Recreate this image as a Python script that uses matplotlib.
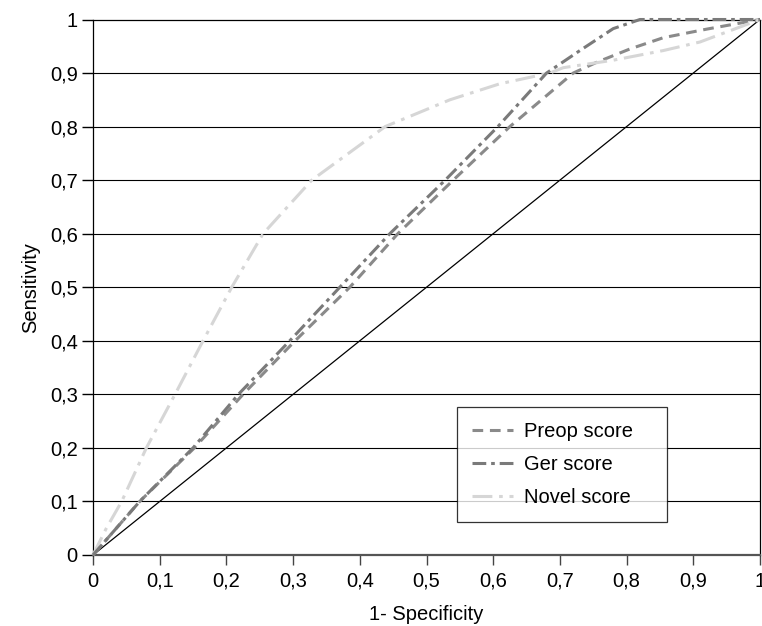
import matplotlib
matplotlib.use("Agg")
import matplotlib.pyplot as plt
from matplotlib.ticker import FuncFormatter

plt.rcParams['font.family'] = ['Liberation Sans', 'DejaVu Sans']

preop_x = [0, 0.07, 0.152, 0.225, 0.303, 0.385, 0.457, 0.54, 0.625, 0.72, 0.755, 0.805, 0.855, 0.92, 1.0]
preop_y = [0, 0.10, 0.20, 0.30, 0.40, 0.50, 0.60, 0.70, 0.80, 0.90, 0.92, 0.945, 0.966, 0.982, 1.0]

ger_x = [0, 0.07, 0.15, 0.218, 0.295, 0.37, 0.445, 0.528, 0.607, 0.68, 0.73, 0.78, 0.82, 1.0]
ger_y = [0, 0.10, 0.20, 0.30, 0.40, 0.50, 0.60, 0.70, 0.80, 0.90, 0.942, 0.983, 1.0, 1.0]

novel_x = [0, 0.02, 0.043, 0.08, 0.123, 0.165, 0.208, 0.255, 0.328, 0.438, 0.535, 0.61, 0.685, 0.705, 0.78, 0.855, 0.91, 1.0]
novel_y = [0, 0.05, 0.10, 0.20, 0.30, 0.40, 0.50, 0.60, 0.70, 0.80, 0.85, 0.88, 0.90, 0.91, 0.924, 0.942, 0.958, 1.0]

ref_x = [0, 1]
ref_y = [0, 1]

ticks = [0, 0.1, 0.2, 0.3, 0.4, 0.5, 0.6, 0.7, 0.8, 0.9, 1.0]

FS = 14.5

fig = plt.figure(figsize=(7.62, 6.26), dpi=100)
ax = fig.add_axes([93/762, 1-555/626, (760-93)/762, (555-19.5)/626])

for t in ticks[1:-1]:
    ax.axhline(t, color='black', lw=0.8, zorder=1)

ax.plot(ref_x, ref_y, color='black', lw=0.9, zorder=2)
ax.plot(preop_x, preop_y, color='#8a8a8a', lw=2.2, dashes=(3.5, 2.2), label='Preop score', zorder=3, clip_on=False)
ax.plot(ger_x, ger_y, color='#7a7a7a', lw=2.2, dashes=(4.5, 1.6, 1.2, 1.6), label='Ger score', zorder=4, clip_on=False)
ax.plot(novel_x, novel_y, color='#d6d6d6', lw=2.2, dashes=(6.5, 2.2, 1.2, 2.2), label='Novel score', zorder=3, clip_on=False)

ax.set_xlim(0, 1)
ax.set_ylim(0, 1)
ax.set_xticks(ticks)
ax.set_yticks(ticks)
fmt = FuncFormatter(lambda v, p: ('%g' % round(v, 1)).replace('.', ','))
ax.xaxis.set_major_formatter(fmt)
ax.yaxis.set_major_formatter(fmt)
ax.tick_params(axis='x', direction='out', length=7, width=1, labelsize=FS, pad=5, color='#444444')
ax.tick_params(axis='y', direction='out', length=8, width=1, labelsize=FS, pad=3)

for s in ['left', 'right', 'top']:
    ax.spines[s].set_color('black')
    ax.spines[s].set_linewidth(0.9)
ax.spines['bottom'].set_color('#555555')
ax.spines['bottom'].set_linewidth(1.6)

ax.set_xlabel('1- Specificity', fontsize=FS, labelpad=10)
ax.set_ylabel('Sensitivity', fontsize=FS, labelpad=7)

leg = ax.legend(loc='lower left', bbox_to_anchor=(0.546, 0.062, 0.315, 0.214), mode='expand',
                fontsize=FS, frameon=True, fancybox=False, borderpad=0.75, labelspacing=0.68,
                handlelength=2.0, handletextpad=0.55, borderaxespad=0)
leg.get_frame().set_edgecolor('black')
leg.get_frame().set_linewidth(0.9)

fig.savefig('out.png', dpi=100)
